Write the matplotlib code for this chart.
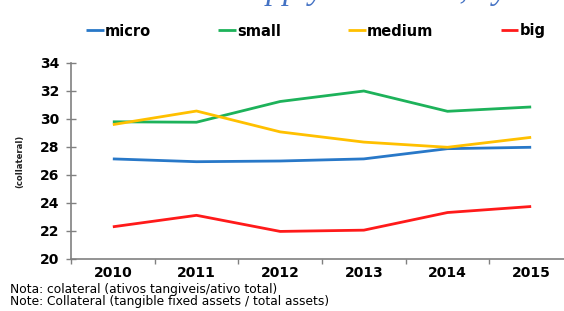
import matplotlib
matplotlib.use("Agg")
import matplotlib.pyplot as plt

years = ["2010", "2011", "2012", "2013", "2014", "2015"]
micro = [27.15, 26.95, 27.0, 27.15, 27.88, 27.98]
small = [29.8, 29.77, 31.25, 32.0, 30.55, 30.86]
medium = [29.6, 30.57, 29.08, 28.35, 27.98, 28.69]
big = [22.3, 23.12, 21.97, 22.06, 23.32, 23.75]
series_names = ["micro", "small", "medium", "big"]
colors = ["#2878c8", "#1db25a", "#ffc000", "#ff1a1a"]
yticks = [20, 22, 24, 26, 28, 30, 32, 34]

plt.rcParams['font.family'] = ['DejaVu Sans']

fig = plt.figure(figsize=(5.64, 3.11), dpi=100)
ax = fig.add_axes([71/564, (311-259)/311, (573-71)/564, (259-63)/311])

x = list(range(len(years)))
lines = []
for name, vals, c in zip(series_names, [micro, small, medium, big], colors):
    ln, = ax.plot(x, vals, color=c, lw=2.0, label=name, solid_capstyle='butt')
    lines.append(ln)

ax.set_xlim(-0.5, len(years) - 0.5)
ax.set_ylim(20, 34)
ax.set_yticks(yticks)
ax.set_yticklabels([str(t) for t in yticks], fontweight='bold', fontsize=10)
ax.set_xticks([i + 0.5 for i in range(-1, len(years))], minor=False)
ax.set_xticklabels([])
ax.set_xticks(x, minor=True)
ax.set_xticklabels(years, minor=True, fontweight='bold', fontsize=10)
ax.tick_params(axis='x', which='minor', length=0, pad=5)
ax.tick_params(axis='x', which='major', length=3.5, direction='out', color='#808080', width=1)
ax.tick_params(axis='y', length=7, direction='inout', color='#808080', width=1, pad=5)

for s in ['top', 'right']:
    ax.spines[s].set_visible(False)
for s in ['left', 'bottom']:
    ax.spines[s].set_color('#808080')
    ax.spines[s].set_linewidth(1.2)

fig.text(20/564, 1 - 161/311, "(collateral)", fontsize=6.1, fontweight='bold',
         rotation=90, ha='center', va='center', color='#222222')

leg = fig.legend(handles=lines, labels=series_names, loc='center left', ncol=4,
                 bbox_to_anchor=(86/564, 1 - 31/311), frameon=False,
                 prop={'weight': 'bold', 'size': 10.5}, handlelength=1.2,
                 handletextpad=0.1, columnspacing=4.6, borderpad=0, borderaxespad=0)

fig.text(10/564, 1 - 293.5/311, "Nota: colateral (ativos tangiveis/ativo total)", fontsize=8.8, va='baseline')
fig.text(10/564, 1 - 305.5/311, "Note: Collateral (tangible fixed assets / total assets)", fontsize=8.8, va='baseline')

fig.text(144/564, 1 + 0.5/311, "Credit supply in market, by size", fontsize=24, style='italic',
         family='Liberation Serif', color='#4472c4', va='baseline', ha='left')

fig.savefig("out.png", dpi=100)
